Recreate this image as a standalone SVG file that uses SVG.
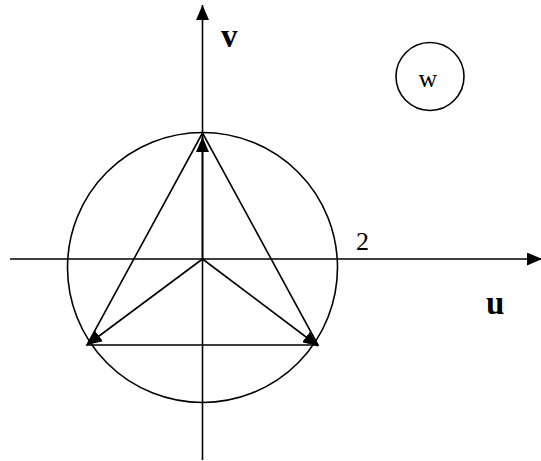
<svg xmlns="http://www.w3.org/2000/svg" width="541" height="461" viewBox="0 0 541 461">
<defs>
<marker id="ah" markerUnits="userSpaceOnUse" markerWidth="16" markerHeight="13" refX="15" refY="6.5" orient="auto">
<path d="M0,0 L15,6.5 L0,13 z" fill="#000"/>
</marker>
<style>
.ln{stroke:#000;stroke-width:1.6;fill:none}
.lbl{font-family:"Liberation Serif","Times New Roman",serif;fill:#000}
.b{font-weight:bold;font-size:33px}
</style>
</defs>
<rect width="541" height="461" fill="#fff"/>
<g id="circle-big">
<circle class="ln" cx="202.5" cy="267.5" r="135"/>
</g>
<g id="triangle">
<polygon class="ln" points="202.5,133 87,345 318,345"/>
</g>
<g id="connectors">
<line class="ln" x1="202.5" y1="460" x2="202.5" y2="5" marker-end="url(#ah)"/>
<line class="ln" x1="10" y1="259" x2="542" y2="259" marker-end="url(#ah)"/>
<line class="ln" x1="202.5" y1="259" x2="202.5" y2="137" marker-end="url(#ah)"/>
<line class="ln" x1="202.5" y1="259" x2="87" y2="345" marker-end="url(#ah)"/>
<line class="ln" x1="202.5" y1="259" x2="318" y2="346" marker-end="url(#ah)"/>
</g>
<g id="node-w">
<circle class="ln" cx="430" cy="76.5" r="34"/>
<text class="lbl" x="428" y="87" font-size="26" text-anchor="middle">w</text>
</g>
<g id="labels">
<text class="lbl b" x="221" y="47">v</text>
<text class="lbl b" x="486" y="314">u</text>
<text class="lbl" x="356" y="250" font-size="26">2</text>
</g>
</svg>
